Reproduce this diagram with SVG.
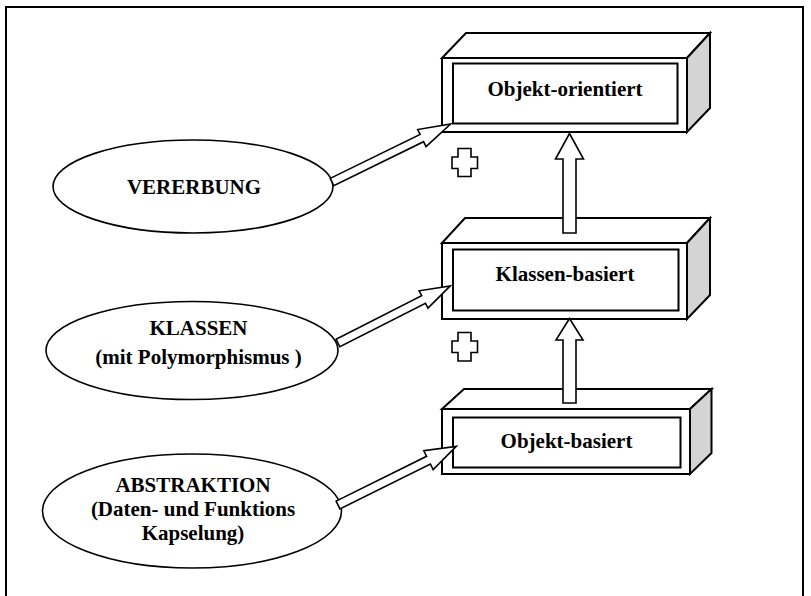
<svg xmlns="http://www.w3.org/2000/svg" width="811" height="596" viewBox="0 0 811 596">
<style>
.frame{fill:none;stroke:#000;stroke-width:2}
.face{fill:#fff;stroke:#000;stroke-width:2;stroke-linejoin:miter}
.side{fill:#d4d4d4;stroke:#000;stroke-width:2}
.inner{fill:#fff;stroke:#000;stroke-width:2}
.ell{fill:#fff;stroke:#000;stroke-width:1.6}
.arrow{fill:#fff;stroke:#000;stroke-width:1.6;stroke-linejoin:miter}
.plus{fill:#fff;stroke:#000;stroke-width:1.6}
.t{font-family:"Liberation Serif","Times New Roman",serif;font-weight:bold;font-size:21px;fill:#000;text-anchor:middle}
</style>
<rect width="811" height="596" fill="#fff"/>
<rect class="frame" x="6" y="7" width="797" height="600"/>

<g id="box-objekt-orientiert">
<polygon class="face" points="442,58 466,33 710,33 687,58"/>
<polygon class="side" points="687,58 710,33 710,108 687,132"/>
<rect class="face" x="442" y="58" width="245" height="74"/>
<rect class="inner" x="453" y="63.5" width="224.5" height="60"/>
<text class="t" x="565" y="96">Objekt-orientiert</text>
</g>

<g id="box-klassen-basiert">
<polygon class="face" points="442,243 465,218 710,218 687,243"/>
<polygon class="side" points="687,243 710,218 710,295 687,319"/>
<rect class="face" x="442" y="243" width="245" height="76"/>
<rect class="inner" x="453" y="249.5" width="225.5" height="61"/>
<text class="t" x="565" y="281">Klassen-basiert</text>
</g>

<g id="box-objekt-basiert">
<polygon class="face" points="442,409 464,389 711.5,389 690,409"/>
<polygon class="side" points="690,409 711.5,389 711.5,453 690,474"/>
<rect class="face" x="442" y="409" width="248" height="65"/>
<rect class="inner" x="453" y="417.5" width="227.5" height="50"/>
<text class="t" x="566.5" y="448">Objekt-basiert</text>
</g>

<g id="ellipse-vererbung">
<ellipse class="ell" cx="193" cy="186.5" rx="140" ry="46.5"/>
<text class="t" x="194" y="194">VERERBUNG</text>
</g>

<g id="ellipse-klassen">
<ellipse class="ell" cx="192" cy="350.5" rx="146" ry="49"/>
<text class="t" x="198.5" y="335">KLASSEN</text>
<text class="t" x="198.5" y="364">(mit Polymorphismus )</text>
</g>

<g id="ellipse-abstraktion">
<ellipse class="ell" cx="192" cy="511" rx="149.5" ry="57"/>
<text class="t" x="193" y="491.5">ABSTRAKTION</text>
<text class="t" x="193" y="516">(Daten- und Funktions</text>
<text class="t" x="193" y="540">Kapselung)</text>
</g>

<g id="plus-1">
<path class="plus" d="M458,148.5 H471 V157 H477.5 V168.5 H471 V176.5 H458 V168.5 H452 V157 H458 Z"/>
</g>
<g id="plus-2">
<path class="plus" d="M458,332.5 H471 V341 H477.5 V352.5 H471 V361 H458 V352.5 H452 V341 H458 Z"/>
</g>

<g id="connectors">
<polygon class="arrow" transform="translate(332,182) rotate(-26.04)" points="0,-4 100,-4 100,-9.5 132,0 100,9.5 100,4 0,4"/>
<polygon class="arrow" transform="translate(338,343) rotate(-26.97)" points="0,-4.2 96,-4.2 96,-9.7 126,0 96,9.7 96,4.2 0,4.2"/>
<polygon class="arrow" transform="translate(338,505) rotate(-26.37)" points="0,-4.3 101,-4.3 101,-10.5 132,0 101,10.5 101,4.3 0,4.3"/>
<polygon class="arrow" points="563,233 563,159 555.5,159 569.5,133.5 583.5,159 576,159 576,233"/>
<polygon class="arrow" points="563,403 563,340 556,340 569.5,318.5 583,340 576,340 576,403"/>
</g>
</svg>
